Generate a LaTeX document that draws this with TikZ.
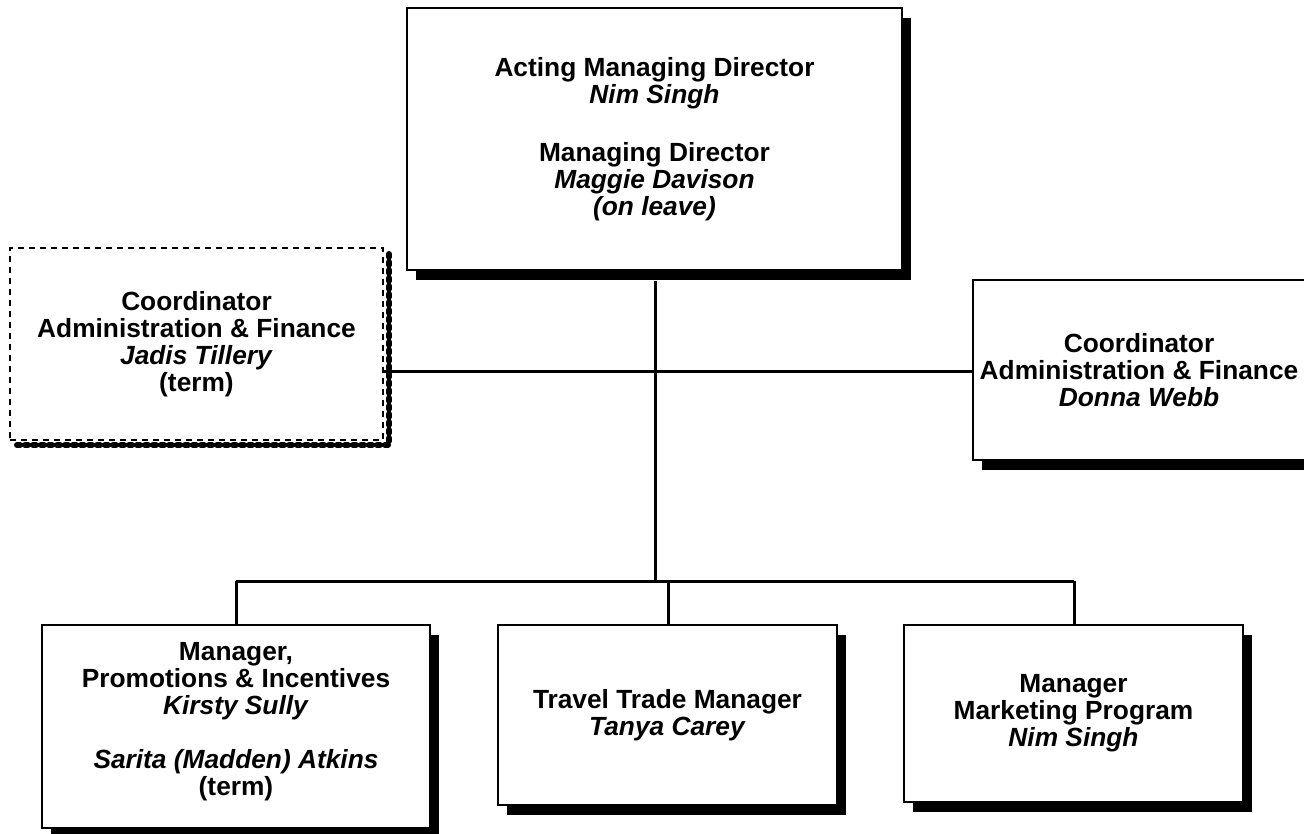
\documentclass[tikz,border=0pt]{standalone}
\usepackage{fontspec}
\setmainfont{Liberation Sans}
\usetikzlibrary{shadows}
\begin{document}
\begin{tikzpicture}[x=1pt,y=-1pt,
  every node/.style={font=\fontsize{26.3}{27}\selectfont\bfseries, align=center, inner sep=0pt},
  orgbox/.style={draw=black, line width=2.5pt, fill=white, rectangle,
    drop shadow={shadow xshift=9pt, shadow yshift=-10pt, fill=black, opacity=1}},
  dashbox/.style={draw=black, line width=2.8pt, fill=white, rectangle, dash pattern=on 6pt off 5pt},
  conn/.style={line width=3pt, draw=black}]
\useasboundingbox (0,0) rectangle (1304,834);
\node[orgbox, minimum width=495pt, minimum height=262pt] (top) at (654.5,139)
  {Acting Managing Director\\ \textit{Nim Singh}\\[31pt] Managing Director\\ \textit{Maggie Davison}\\ \textit{(on leave)}};
\draw[line width=6pt, line cap=round, dash pattern=on 3pt off 5pt] (389,254) -- (389,445) -- (17,445);
\node[dashbox, minimum width=373pt, minimum height=192pt] (coordA) at (196.5,344)
  {Coordinator\\ Administration \& Finance\\ \textit{Jadis Tillery}\\ (term)};
\node[orgbox, minimum width=332pt, minimum height=180pt] (coordB) at (1139,370)
  {Coordinator\\ Administration \& Finance\\ \textit{Donna Webb}};
\node[orgbox, minimum width=388pt, minimum height=203pt] (m1) at (236,726.5)
  {Manager,\\ Promotions \& Incentives\\ \textit{Kirsty Sully}\\[27pt] \textit{Sarita (Madden) Atkins}\\ (term)\\[-11pt]\mbox{}};
\node[orgbox, minimum width=339pt, minimum height=180pt] (m2) at (667.5,715)
  {Travel Trade Manager\\ \textit{Tanya Carey}};
\node[orgbox, minimum width=339pt, minimum height=177pt] (m3) at (1073.5,713.5)
  {Manager\\ Marketing Program\\ \textit{Nim Singh}};
\coordinate (hl) at (655,371);
\coordinate (bus) at (655,581);
\coordinate (busL) at (236,581);
\coordinate (busR) at (1074,581);
\coordinate (busM) at (668,581);
\draw[conn] (coordA.east |- hl) -- (coordB.west |- hl);
\draw[conn] (top.south -| bus) ++(0,10) -- (bus);
\draw[conn] (busL) -- (busR);
\draw[conn] (busL) -- (m1.north -| busL);
\draw[conn] (busM) -- (m2.north -| busM);
\draw[conn] (busR) -- (m3.north -| busR);
\end{tikzpicture}
\end{document}
